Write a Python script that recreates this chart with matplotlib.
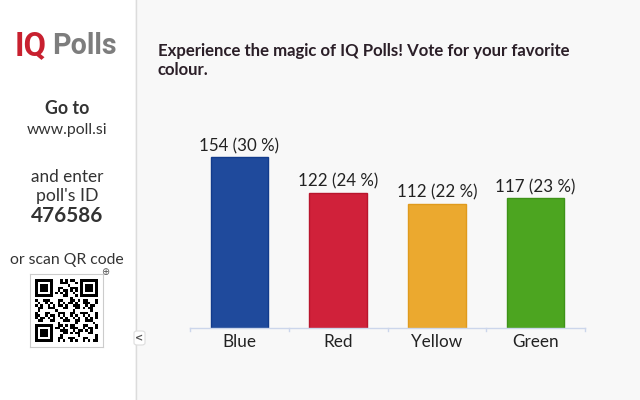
import matplotlib
matplotlib.use("Agg")
import matplotlib.pyplot as plt
from matplotlib.patches import Rectangle, FancyBboxPatch
import numpy as np

categories = ["Blue", "Red", "Yellow", "Green"]
votes = [154, 122, 112, 117]
percents = [30, 24, 22, 23]
bar_colors = ["#1f4a9c", "#d0213a", "#eba92f", "#4ca520"]
edge_colors = ["#123b8c", "#b8152c", "#e09a1c", "#3e9318"]
title_line1 = "Experience the magic of IQ Polls! Vote for your favorite"
title_line2 = "colour."

W, H = 640, 400
fig = plt.figure(figsize=(6.4, 4.0), dpi=100)
fig.patch.set_facecolor("#f8f8f8")
renderer = fig.canvas.get_renderer()


def fx(x):
    return x / W


def fy(y):
    return 1 - y / H


def size_for(txt, width_px, family, weight="normal", base=11):
    """Font size at which txt renders width_px wide."""
    t = fig.text(0, 0, txt, fontsize=base, family=family, fontweight=weight)
    w = t.get_window_extent(renderer=renderer).width
    t.remove()
    return base * width_px / w


# Sidebar
fig.add_artist(Rectangle((0, 0), fx(135), 1, transform=fig.transFigure,
                         facecolor="white", edgecolor="none", zorder=0))
fig.add_artist(plt.Line2D([fx(135.5), fx(135.5)], [0, 1], transform=fig.transFigure,
                          color="#dcdcdc", lw=1, zorder=1))

font = "Lato"
# Logo
fig.text(fx(15), fy(46), "IQ", color="#c8202f", fontweight="bold", family="Roboto",
         fontsize=size_for("IQ", 32, "Roboto", "bold"), ha="left", va="center")
fig.text(fx(52), fy(46), "Polls", color="#7d7d7d", fontweight="bold", family="Roboto",
         fontsize=size_for("Polls", 65, "Roboto", "bold"), ha="left", va="center")

cx = fx(67)
side = [("Go to", 108, 44, "bold"), ("www.poll.si", 130, 80, "normal"),
        ("and enter", 177, 72, "normal"), ("poll's ID", 196, 62, "normal"),
        ("476586", 216, 72, "bold"), ("or scan QR code", 260, 114, "normal")]
for txt, yy, wpx, wt in side:
    fig.text(cx, fy(yy), txt, fontsize=size_for(txt, wpx, font, wt), fontweight=wt,
             color="#333333", ha="center", va="center", family=font)

# QR code box (decorative)
qr_ax = fig.add_axes([fx(30), fy(348), fx(73), 75 / H])
qr_ax.set_xticks([]); qr_ax.set_yticks([])
for s in qr_ax.spines.values():
    s.set_color("#cccccc")
n = 25
ii, jj = np.meshgrid(np.arange(n), np.arange(n), indexing="ij")
grid = (((ii * 7 + jj * 13 + ii * jj) % 5) < 2).astype(float)
grid[(ii + 2 * jj) % 7 == 0] = 1
for (r0, c0) in [(0, 0), (0, n - 7), (n - 7, 0)]:
    rr = slice(max(r0 - 1, 0), min(r0 + 8, n))
    cc = slice(max(c0 - 1, 0), min(c0 + 8, n))
    grid[rr, cc] = 0
    grid[r0:r0 + 7, c0:c0 + 7] = 1
    grid[r0 + 1:r0 + 6, c0 + 1:c0 + 6] = 0
    grid[r0 + 2:r0 + 5, c0 + 2:c0 + 5] = 1
qr_ax.imshow(grid, cmap="Greys", interpolation="nearest", vmin=0, vmax=1,
             extent=[-0.5, n - 0.5, n - 0.5, -0.5])
qr_ax.set_xlim(-2.5, n + 1.5)
qr_ax.set_ylim(n + 1.5, -2.5)
fig.text(fx(105), fy(272), "⊕", fontsize=7, color="#555555", ha="center", va="center")

# Collapse tab
fig.add_artist(FancyBboxPatch((fx(134), fy(345)), fx(11), 14 / H,
                              boxstyle="round,pad=0,rounding_size=0.005",
                              transform=fig.transFigure, facecolor="white",
                              edgecolor="#dddddd", lw=0.8, zorder=2))
fig.text(fx(139.5), fy(338), "<", fontsize=7, fontweight="bold", color="#555555",
         ha="center", va="center", zorder=3)

# Title
tsize = size_for(title_line1, 413, font, "bold")
fig.text(fx(158), fy(51), title_line1, fontsize=tsize, fontweight="bold",
         color="#2b1f28", ha="left", va="center", family=font)
fig.text(fx(158), fy(70), title_line2, fontsize=tsize, fontweight="bold",
         color="#2b1f28", ha="left", va="center", family=font)

# Chart
ax = fig.add_axes([fx(190), fy(328), fx(585 - 190), (328 - 120) / H])
ax.set_facecolor("none")
x = np.arange(len(categories))
ax.bar(x, votes, width=0.58, color=bar_colors, edgecolor=edge_colors, linewidth=1, zorder=2)
ax.set_xlim(-0.5, len(categories) - 0.5)
ax.set_ylim(0, 187.4)
lsize = size_for("154 (30 %)", 80, font)
for xi, v, p in zip(x, votes, percents):
    ax.annotate(f"{v} ({p} %)", (xi, v), xytext=(0, 2), textcoords="offset points",
                ha="center", va="bottom", fontsize=lsize, color="#222222", family=font)
ax.set_yticks([])
ax.set_xticks(x)
ax.set_xticklabels(categories, fontsize=size_for("Yellow", 51, font), color="#222222",
                   family=font)
ax.tick_params(axis="x", length=0, pad=4)
for s in ["top", "right", "left"]:
    ax.spines[s].set_visible(False)
ax.spines["bottom"].set_color("#ccd6eb")
ax.spines["bottom"].set_linewidth(1)
for b in np.arange(-0.5, len(categories), 1.0):
    ax.plot([b, b], [-2.5, 0], color="#ccd6eb", lw=1, clip_on=False)

fig.savefig("out.png", dpi=100, facecolor=fig.get_facecolor())
